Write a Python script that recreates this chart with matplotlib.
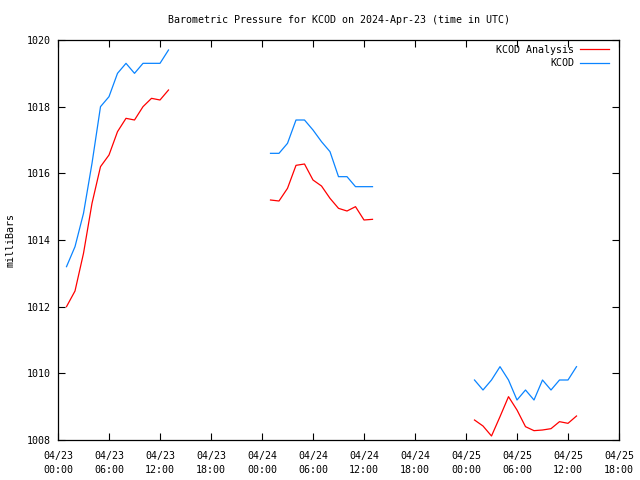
import matplotlib
matplotlib.use("Agg")
import matplotlib.pyplot as plt
import numpy as np

# hours since 2024-04-23 00:00 UTC, three separate segments
hours1 = [1, 2, 3, 4, 5, 6, 7, 8, 9, 10, 11, 12, 13]
hours2 = [25, 26, 27, 28, 29, 30, 31, 32, 33, 34, 35, 36, 37]
hours3 = [49, 50, 51, 52, 53, 54, 55, 56, 57, 58, 59, 60, 61]

kcod1 = [1013.2, 1013.8, 1014.8, 1016.3, 1018.0, 1018.3, 1019.0, 1019.3, 1019.0, 1019.3, 1019.3, 1019.3, 1019.7]
kcod2 = [1016.6, 1016.6, 1016.9, 1017.6, 1017.6, 1017.3, 1016.95, 1016.65, 1015.9, 1015.9, 1015.6, 1015.6, 1015.6]
kcod3 = [1009.8, 1009.5, 1009.8, 1010.2, 1009.8, 1009.2, 1009.5, 1009.2, 1009.8, 1009.5, 1009.8, 1009.8, 1010.2]

anal1 = [1012.0, 1012.47, 1013.6, 1015.1, 1016.2, 1016.55, 1017.25, 1017.65, 1017.6, 1018.0, 1018.25, 1018.2, 1018.5]
anal2 = [1015.2, 1015.17, 1015.55, 1016.24, 1016.28, 1015.8, 1015.62, 1015.25, 1014.95, 1014.87, 1015.0, 1014.6, 1014.62]
anal3 = [1008.6, 1008.42, 1008.12, 1008.7, 1009.3, 1008.9, 1008.4, 1008.28, 1008.3, 1008.34, 1008.55, 1008.5, 1008.72]

tick_hours = [0, 6, 12, 18, 24, 30, 36, 42, 48, 54, 60, 66]
tick_labels = ["04/23\n00:00", "04/23\n06:00", "04/23\n12:00", "04/23\n18:00",
               "04/24\n00:00", "04/24\n06:00", "04/24\n12:00", "04/24\n18:00",
               "04/25\n00:00", "04/25\n06:00", "04/25\n12:00", "04/25\n18:00"]

plt.rcParams['font.family'] = ['DejaVu Sans Mono']
plt.rcParams['font.size'] = 7.2

red = '#ff0000'
blue = '#0a84ff'

fig = plt.figure(figsize=(6.4, 4.8), dpi=100)
ax = fig.add_axes([58 / 640, 40 / 480, 561 / 640, 400 / 480])

for i, (h, a) in enumerate([(hours1, anal1), (hours2, anal2), (hours3, anal3)]):
    ax.plot(h, a, color=red, lw=0.9, label='KCOD Analysis' if i == 0 else None)
for i, (h, k) in enumerate([(hours1, kcod1), (hours2, kcod2), (hours3, kcod3)]):
    ax.plot(h, k, color=blue, lw=0.9, label='KCOD' if i == 0 else None)

ax.set_xlim(0, 66)
ax.set_ylim(1008, 1020)
ax.set_xticks(tick_hours)
ax.set_xticklabels(tick_labels, linespacing=1.45)
ax.set_yticks(np.arange(1008, 1021, 2))
ax.tick_params(direction='in', top=True, right=True, length=5, width=0.8)
ax.tick_params(axis='x', pad=8)
ax.tick_params(axis='y', pad=5)
for s in ax.spines.values():
    s.set_linewidth(0.9)

ax.set_ylabel('milliBars', labelpad=8)
ax.set_title('Barometric Pressure for KCOD on 2024-Apr-23 (time in UTC)', fontsize=7.2, pad=12)

ax.legend(loc='upper right', bbox_to_anchor=(1, 1.0125), frameon=False, markerfirst=False,
          handlelength=2.9, handletextpad=0.6, borderaxespad=0.6, labelspacing=0.35)

fig.savefig('out.png', dpi=100)
